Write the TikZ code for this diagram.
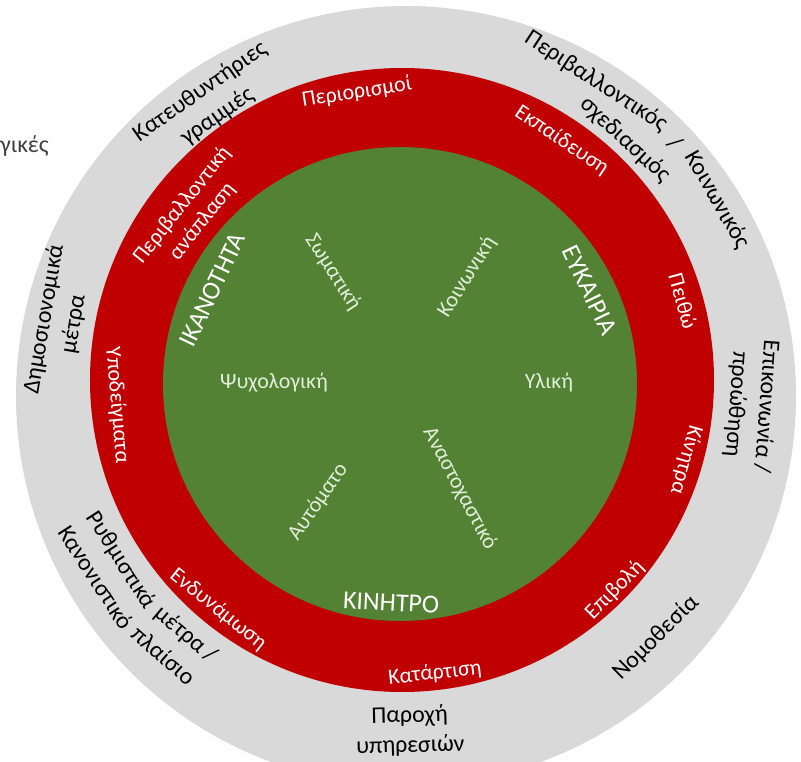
\documentclass[tikz,border=0pt]{standalone}
\usepackage{fontspec}
\setmainfont{Carlito}
\definecolor{ringgrey}{HTML}{D9D9D9}
\definecolor{ringred}{HTML}{C00000}
\definecolor{ringgreen}{HTML}{548235}
\definecolor{palegreen}{HTML}{E2EFDA}
\definecolor{fadedgrey}{HTML}{404040}

\begin{document}
\begin{tikzpicture}[
    x=1bp, y=1bp,
    outerlbl/.style={text=black, font=\fontsize{24}{30}\selectfont, align=center, inner sep=0pt},
    redlbl/.style={text=white, font=\fontsize{22}{26}\selectfont, align=center, inner sep=0pt},
    capslbl/.style={text=white, font=\fontsize{26}{30}\selectfont, inner sep=0pt},
    greenlbl/.style={text=palegreen, font=\fontsize{22}{26}\selectfont, inner sep=0pt}
]
\useasboundingbox (-402,-382) rectangle (399,380);
\clip (-402,-382) rectangle (399,380);

% Rings
\fill[ringgrey] (4,-16) circle (390);
\fill[ringred] (0,0) circle (312);
\fill[ringgreen] (-2,-4) circle (237);

% Cut-off label at the left
\node[outerlbl, text=fadedgrey, anchor=west] (cutlbl) at (-402,234) {γικές};

% Inner disk: sources of behaviour
\node[capslbl, rotate=64.6] (capability) at (154.6:210) {ΙΚΑΝΟΤΗΤΑ};
\node[capslbl, rotate=-64.4] (opportunity) at (25.6:208) {ΕΥΚΑΙΡΙΑ};
\node[capslbl, rotate=-2.8] (motivation) at (-92.8:223) {ΚΙΝΗΤΡΟ};

\node[greenlbl, rotate=-57.4] (physical) at (122.6:128) {Σωματική};
\node[greenlbl, rotate=57.8] (social) at (57.8:122) {Κοινωνική};
\node[greenlbl] (psychological) at (-128,-3) {Ψυχολογική};
\node[greenlbl] (material) at (147,-3) {Υλική};
\node[greenlbl, rotate=55.5] (automatic) at (235.5:148) {Αυτόματο};
\node[greenlbl, rotate=-62] (reflective) at (-62:123) {Αναστοχαστικό};

% Middle ring: intervention functions
\node[redlbl, rotate=8.9] (restriction) at (98.9:291) {Περιορισμοί};
\node[redlbl, rotate=-33.7] (education) at (56.3:288) {Εκπαίδευση};
\node[redlbl, rotate=-74.3] (persuasion) at (15.7:292) {Πειθώ};
\node[redlbl, rotate=-105.7] (incentive) at (-15.7:295) {Κίνητρα};
\node[redlbl, rotate=45.4] (coercion) at (-44.6:299) {Επιβολή};
\node[redlbl, rotate=6.4] (training) at (-83.6:295) {Κατάρτιση};
\node[redlbl, rotate=-38.7] (enablement) at (231.3:294) {Ενδυνάμωση};
\node[redlbl, rotate=-85] (modelling) at (185:286) {Υποδείγματα};
\node[redlbl, rotate=51.5] (restructuring) at (141.5:268) {Περιβαλλοντική\\ανάπλαση};

% Outer ring: policy categories
\node[outerlbl, rotate=35] (guidelines) at (125:337) {Κατευθυντήριες\\γραμμές};
\node[outerlbl, rotate=-33] (envplan1) at (57:356) {Περιβαλλοντικός};
\node[outerlbl, rotate=-49] (envplan2) at (41:362) {/};
\node[outerlbl, rotate=-60.3] (envplan3) at (29.7:363) {Κοινωνικός};
\node[outerlbl, rotate=-42.9] (envplan4) at (47.1:328) {σχεδιασμός};
\node[outerlbl, rotate=-94.2] (communication) at (-4.2:350) {Επικοινωνία /\\προώθηση};
\node[outerlbl, rotate=44.6] (legislation) at (-45.4:362) {Νομοθεσία};
\node[outerlbl, rotate=1.3] (service) at (-88.7:351) {Παροχή\\υπηρεσιών};
\node[outerlbl, rotate=-57.3] (regulation1) at (212.7:334) {Ρυθμιστικά};
\node[outerlbl, rotate=-40.3] (regulation2) at (229.7:334) {μέτρα /};
\node[outerlbl, rotate=-57.2] (regulation3) at (212.8:364) {Κανονιστικό};
\node[outerlbl, rotate=-40.9] (regulation4) at (229.1:364) {πλαίσιο};
\node[outerlbl, rotate=80.4] (fiscal) at (170.4:348) {Δημοσιονομικά\\μέτρα};

\end{tikzpicture}
\end{document}
